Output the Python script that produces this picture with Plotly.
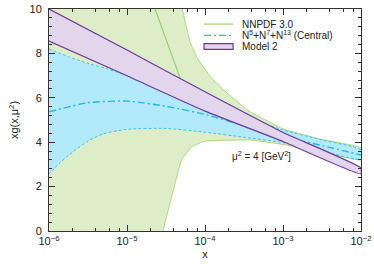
import plotly.graph_objects as go

# ---- data (x given as log10(x)) ----
nn_up_lx = [-6.0, -5.0, -4.5, -4.29, -4.19, -4.1, -3.93, -3.76, -3.46, -3.0, -2.5, -2.0]
nn_up_y = [40.0, 25.0, 14.0, 10.0, 8.5, 7.8, 6.95, 6.35, 5.45, 4.6, 4.12, 3.75]
nn_lo_lx = [-6.0, -5.0, -4.6, -4.54, -4.43, -4.3, -4.17, -4.0, -3.41, -3.0, -2.5, -2.0]
nn_lo_y = [-10.0, -6.0, -1.0, 0.0, 1.5, 3.2, 3.8, 4.05, 4.1, 3.9, 3.55, 3.2]
nn_c_lx = [-4.8, -4.64, -4.31, -4.0, -3.5, -3.0, -2.5, -2.0]
nn_c_y = [12.0, 10.0, 6.8, 5.9, 5.0, 4.3, 3.85, 3.48]

cy_lx = [-6.0, -5.75, -5.5, -5.25, -5.0, -4.5, -4.0, -3.5, -3.0, -2.5, -2.0]
cy_up = [8.2, 7.85, 7.55, 7.3, 7.0, 6.4, 5.8, 5.15, 4.55, 4.1, 3.65]
cy_lo_lx = [-6.0, -5.85, -5.7, -5.5, -5.3, -5.0, -4.5, -4.0, -3.5, -3.0, -2.5, -2.0]
cy_lo = [2.57, 3.1, 3.55, 4.05, 4.38, 4.58, 4.62, 4.45, 4.22, 3.98, 3.6, 3.24]
cy_c_lx = [-6.0, -5.5, -5.0, -4.5, -4.0, -3.5, -3.0, -2.5, -2.0]
cy_c = [5.37, 5.78, 5.85, 5.62, 5.25, 4.75, 4.25, 3.85, 3.42]

m2_lx = [-6.0, -5.0, -4.0, -3.0, -2.0]
m2_up = [10.0, 8.15, 6.27, 4.44, 2.84]
m2_lo = [8.56, 6.99, 5.40, 4.03, 2.57]

x_major = [1e-6, 1e-5, 1e-4, 1e-3, 1e-2]
x_labels = ["10<sup>−6</sup>", "10<sup>−5</sup>", "10<sup>−4</sup>", "10<sup>−3</sup>", "10<sup>−2</sup>"]
x_minor_mult = [2, 4, 6, 8]
y_ticks = [0, 2, 4, 6, 8, 10]
y_minor_step = 0.4

legend_names = ["NNPDF 3.0", "N<sup>5</sup>+N<sup>7</sup>+N<sup>13</sup> (Central)", "Model 2"]
annotation_text = "μ<sup>2</sup> = 4 [GeV<sup>2</sup>]"

GREEN_FILL = "#ddedc8"
GREEN_LINE = "#9ccf6a"
CYAN_FILL = "#b2e9fb"
CYAN_LINE = "#1fb8ec"
PURPLE_FILL = "#e2d5ec"
PURPLE_LINE = "#6b3a9c"
TXT = "#222222"
FONT = "Liberation Sans, Arial, sans-serif"


def px(lx):
    return [10 ** v for v in lx]


def poly(xu, yu, xl, yl):
    return px(xu) + px(xl)[::-1], list(yu) + list(yl)[::-1]


fig = go.Figure()

gx, gy = poly(nn_up_lx, nn_up_y, nn_lo_lx, nn_lo_y)
fig.add_trace(go.Scatter(x=gx, y=gy, fill="toself", fillcolor=GREEN_FILL,
                         mode="lines", line=dict(color=GREEN_LINE, width=0.8, shape="spline", smoothing=0.3),
                         showlegend=False, hoverinfo="skip"))
fig.add_trace(go.Scatter(x=px(nn_c_lx), y=nn_c_y, mode="lines", name=legend_names[0], showlegend=False,
                         line=dict(color=GREEN_LINE, width=1.2)))

cx, cyy = poly(cy_lx, cy_up, cy_lo_lx, cy_lo)
fig.add_trace(go.Scatter(x=cx, y=cyy, fill="toself", fillcolor=CYAN_FILL,
                         mode="lines", line=dict(color=CYAN_LINE, width=0.8, dash="3px,2px", shape="spline", smoothing=0.6),
                         showlegend=False, hoverinfo="skip"))
fig.add_trace(go.Scatter(x=px(cy_c_lx), y=cy_c, mode="lines", name=legend_names[1], showlegend=False,
                         line=dict(color=CYAN_LINE, width=1.4, dash="7px,3px,2px,3px", shape="spline", smoothing=0.6)))

mx, my = poly(m2_lx, m2_up, m2_lx, m2_lo)
fig.add_trace(go.Scatter(x=mx, y=my, fill="toself", fillcolor=PURPLE_FILL, name=legend_names[2], showlegend=False,
                         mode="lines", line=dict(color=PURPLE_LINE, width=1.2, shape="spline", smoothing=0.4)))

fig.add_annotation(x=-3.28, y=3.38, xref="x", yref="y", showarrow=False,
                   text=annotation_text, font=dict(size=10, color=TXT, family=FONT))

# ---- legend drawn in paper coordinates ----
leg_x0, leg_x1, leg_tx = 0.497, 0.590, 0.613
leg_rows = [0.932, 0.881, 0.831]
fig.add_shape(type="line", xref="paper", yref="paper", x0=leg_x0, x1=leg_x1, y0=leg_rows[0], y1=leg_rows[0],
              line=dict(color=GREEN_LINE, width=1.2))
fig.add_shape(type="line", xref="paper", yref="paper", x0=leg_x0, x1=leg_x1, y0=leg_rows[1], y1=leg_rows[1],
              line=dict(color=CYAN_LINE, width=1.4, dash="7px,3px,2px,3px"))
fig.add_shape(type="rect", xref="paper", yref="paper", x0=leg_x0, x1=leg_x1,
              y0=leg_rows[2] - 0.013, y1=leg_rows[2] + 0.013,
              line=dict(color=PURPLE_LINE, width=1.2), fillcolor=PURPLE_FILL)
for name, yy in zip(legend_names, leg_rows):
    fig.add_annotation(x=leg_tx, y=yy, xref="paper", yref="paper", xanchor="left", yanchor="middle",
                       showarrow=False, text=name, font=dict(size=10, color=TXT, family=FONT))

x_minor = [m * v for v in x_major[:-1] for m in x_minor_mult]
y_minor = [round(i * y_minor_step, 2) for i in range(int(10 / y_minor_step) + 1)]
y_minor = [v for v in y_minor if v not in y_ticks]

axis_common = dict(showline=True, linecolor="#333333", linewidth=1, mirror="ticks", automargin=False,
                   ticks="inside", ticklen=6, tickcolor="#333333", showgrid=False, zeroline=False,
                   ticklabeloverflow="allow", tickfont=dict(size=11, color=TXT, family=FONT))

fig.update_xaxes(type="log", range=[-6.00001, -1.99999], tickmode="array", tickvals=x_major, ticktext=x_labels,
                 minor=dict(tickmode="array", tickvals=x_minor, ticks="inside", ticklen=3,
                            tickcolor="#333333", showgrid=False),
                 title=dict(text="x", font=dict(size=11, color=TXT, family=FONT), standoff=4),
                 **axis_common)
fig.update_yaxes(range=[0, 10], tickmode="array", tickvals=y_ticks, ticklabelstandoff=4,
                 minor=dict(tickmode="array", tickvals=y_minor, ticks="inside", ticklen=3,
                            tickcolor="#333333", showgrid=False),
                 title=dict(text="xg(x,μ<sup>2</sup>)", font=dict(size=11, color=TXT, family=FONT), standoff=8),
                 **axis_common)

fig.update_layout(width=374, height=268, margin=dict(l=49, r=13, t=9, b=37),
                  paper_bgcolor="white", plot_bgcolor="white", showlegend=False,
                  font=dict(family=FONT, color=TXT))

fig.write_html("out.html", config={"displayModeBar": False},
               post_script="document.body.style.margin='0px';")
